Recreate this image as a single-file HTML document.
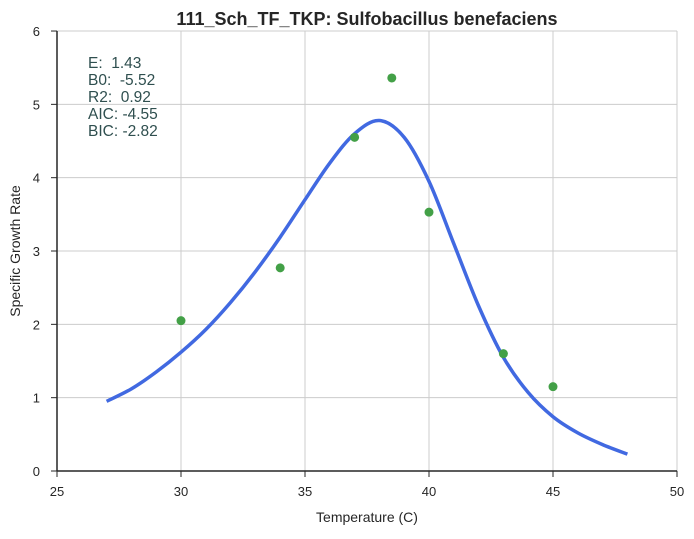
<!DOCTYPE html>
<html><head><meta charset="utf-8"><style>
body{margin:0;background:#fff}
svg text{font-family:"Liberation Sans",sans-serif;white-space:pre}
</style></head><body>
<svg id="c" width="694" height="534" xmlns="http://www.w3.org/2000/svg">
<text x="367" y="25" text-anchor="middle" font-size="18" font-weight="bold" fill="#262626">111_Sch_TF_TKP: Sulfobacillus benefaciens</text>
<text x="367" y="522" text-anchor="middle" font-size="14" fill="#262626">Temperature (C)</text>
<text transform="translate(20,251) rotate(-90)" text-anchor="middle" font-size="14" fill="#262626">Specific Growth Rate</text>
<g id="grid"></g><g id="axes"></g><g id="marks"></g>
<g font-size="15.5" fill="#2f4f4f">
<text x="88" y="68">E:  1.43</text><text x="88" y="85">B0:  -5.52</text><text x="88" y="102">R2:  0.92</text><text x="88" y="119">AIC: -4.55</text><text x="88" y="136">BIC: -2.82</text>
</g>
</svg>
<script>
const xTicks=[25,30,35,40,45,50];
const yTicks=[0,1,2,3,4,5,6];
const obsTemp=[30,34,37,38.5,40,43,45];
const obsRate=[2.05,2.77,4.55,5.36,3.53,1.6,1.15];
const fitTemp=[27,28,29,30,31,32,33,34,35,36,37,38,39,40,41,42,43,44,45,46,47,48];
const fitRate=[0.95,1.12,1.35,1.62,1.93,2.3,2.72,3.19,3.7,4.2,4.6,4.78,4.55,3.95,3.1,2.25,1.55,1.07,0.74,0.52,0.36,0.23];
const X=v=>57+(v-25)*24.8, Y=v=>471-v*73.33;
const NS="http://www.w3.org/2000/svg";
function mk(p,t,a){const e=document.createElementNS(NS,t);for(const k in a)e.setAttribute(k,a[k]);document.getElementById(p).appendChild(e);return e;}
xTicks.forEach(t=>{
 const g=mk('grid','line',{x1:X(t),x2:X(t),y1:31,y2:471,stroke:'#cccccc','stroke-width':1});
 
 
 mk('axes','line',{x1:X(t),x2:X(t),y1:471,y2:477,stroke:'#262626'});
 const l=mk('axes','text',{x:X(t),y:496,'text-anchor':'middle','font-size':13,fill:'#262626'});l.textContent=t;
 
 
});
yTicks.forEach(t=>{
 const g=mk('grid','line',{x1:57,x2:677,y1:Y(t),y2:Y(t),stroke:'#cccccc','stroke-width':1});
 
 
 mk('axes','line',{x1:51,x2:57,y1:Y(t),y2:Y(t),stroke:'#262626'});
 const l=mk('axes','text',{x:40,y:Y(t)+5,'text-anchor':'end','font-size':13,fill:'#262626'});l.textContent=t;
 
 
});
const ya=mk('axes','line',{x1:57,x2:57,y1:31,y2:471,stroke:'#262626','stroke-width':1.5});


const xa=mk('axes','line',{x1:57,x2:677,y1:471,y2:471,stroke:'#262626','stroke-width':1.5});


const P=fitTemp.map((t,i)=>[X(t),Y(fitRate[i])]);
let d='M'+P[0][0]+','+P[0][1];
for(let i=0;i<P.length-1;i++){
 const p0=P[Math.max(0,i-1)],p1=P[i],p2=P[i+1],p3=P[Math.min(P.length-1,i+2)];
 d+=' C'+(p1[0]+(p2[0]-p0[0])/6)+','+(p1[1]+(p2[1]-p0[1])/6)+' '+(p2[0]-(p3[0]-p1[0])/6)+','+(p2[1]-(p3[1]-p1[1])/6)+' '+p2[0]+','+p2[1];
}
const fl=mk('marks','path',{d:d,fill:'none',stroke:'#4169e1','stroke-width':3.5});


obsTemp.forEach((t,i)=>{
 const c=mk('marks','circle',{cx:X(t),cy:Y(obsRate[i]),r:4.5,fill:'#43a047'});
 
 
});
</script>
</body></html>
